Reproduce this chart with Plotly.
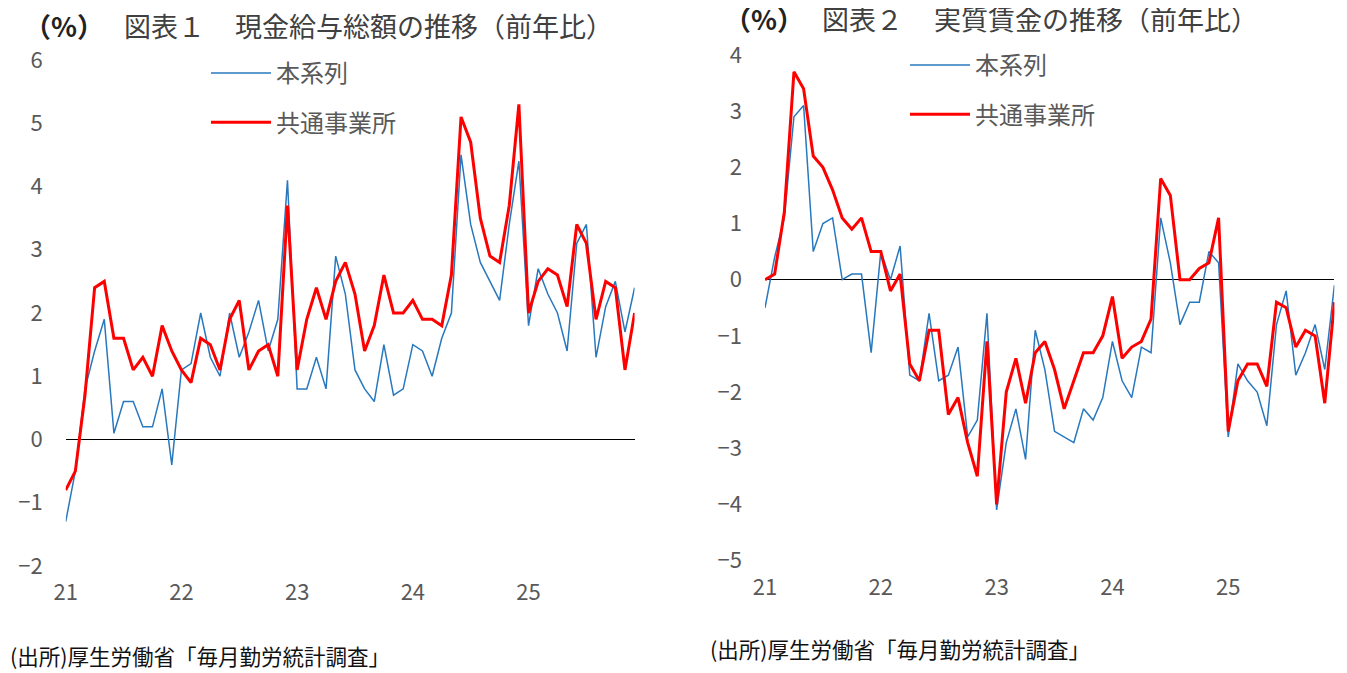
import plotly.graph_objects as go

# months Jan 2021 - Dec 2025
months = [f"{y}/{m:02d}" for y in range(21, 26) for m in range(1, 13)]
year_ticks = ["21/01", "22/01", "23/01", "24/01", "25/01"]
year_labels = ["21", "22", "23", "24", "25"]

# 図表1 現金給与総額 (前年比, %)
nominal_main = [-1.3, -0.5, 0.8, 1.4, 1.9, 0.1, 0.6, 0.6, 0.2, 0.2, 0.8, -0.4,
                1.1, 1.2, 2.0, 1.3, 1.0, 2.0, 1.3, 1.7, 2.2, 1.4, 1.9, 4.1,
                0.8, 0.8, 1.3, 0.8, 2.9, 2.3, 1.1, 0.8, 0.6, 1.5, 0.7, 0.8,
                1.5, 1.4, 1.0, 1.6, 2.0, 4.5, 3.4, 2.8, 2.5, 2.2, 3.4, 4.4,
                1.8, 2.7, 2.3, 2.0, 1.4, 3.1, 3.4, 1.3, 2.1, 2.5, 1.7, 2.4]
nominal_common = [-0.8, -0.5, 0.7, 2.4, 2.5, 1.6, 1.6, 1.1, 1.3, 1.0, 1.8, 1.4,
                  1.1, 0.9, 1.6, 1.5, 1.1, 1.9, 2.2, 1.1, 1.4, 1.5, 1.0, 3.7,
                  1.1, 1.9, 2.4, 1.9, 2.5, 2.8, 2.3, 1.4, 1.8, 2.6, 2.0, 2.0,
                  2.2, 1.9, 1.9, 1.8, 2.6, 5.1, 4.7, 3.5, 2.9, 2.8, 3.7, 5.3,
                  2.0, 2.5, 2.7, 2.6, 2.1, 3.4, 3.1, 1.9, 2.5, 2.4, 1.1, 2.0]

# 図表2 実質賃金 (前年比, %)
real_main = [-0.5, 0.4, 1.1, 2.9, 3.1, 0.5, 1.0, 1.1, 0.0, 0.1, 0.1, -1.3,
             0.5, 0.0, 0.6, -1.7, -1.8, -0.6, -1.8, -1.7, -1.2, -2.8, -2.5, -0.6,
             -4.1, -2.9, -2.3, -3.2, -0.9, -1.6, -2.7, -2.8, -2.9, -2.3, -2.5, -2.1,
             -1.1, -1.8, -2.1, -1.2, -1.3, 1.1, 0.3, -0.8, -0.4, -0.4, 0.5, 0.3,
             -2.8, -1.5, -1.8, -2.0, -2.6, -0.8, -0.2, -1.7, -1.3, -0.8, -1.6, -0.1]
real_common = [0.0, 0.1, 1.2, 3.7, 3.4, 2.2, 2.0, 1.6, 1.1, 0.9, 1.1, 0.5,
               0.5, -0.2, 0.1, -1.5, -1.8, -0.9, -0.9, -2.4, -2.1, -2.9, -3.5, -1.1,
               -4.0, -2.0, -1.4, -2.2, -1.3, -1.1, -1.6, -2.3, -1.8, -1.3, -1.3, -1.0,
               -0.3, -1.4, -1.2, -1.1, -0.7, 1.8, 1.5, 0.0, 0.0, 0.2, 0.3, 1.1,
               -2.7, -1.8, -1.5, -1.5, -1.9, -0.4, -0.5, -1.2, -0.9, -1.0, -2.2, -0.4]

# the page body keeps its default 8px margin, so the figure sits at (8, 8)
PAGE_OFF = 8
W, H = 1347 - PAGE_OFF, 673 - PAGE_OFF
FONT = "Noto Sans CJK JP"
BLUE = "#2878BE"
RED = "#FF0000"
GRAY = "#595959"


def px(x):
    # screen pixel -> paper x
    return (x - PAGE_OFF) / W


def py(y):
    # screen pixel -> paper y
    return 1 - (y - PAGE_OFF) / H


fig = go.Figure()

# left chart
fig.add_trace(go.Scatter(x=months, y=nominal_main, mode="lines", name="本系列",
                         line=dict(color=BLUE, width=1.5), xaxis="x", yaxis="y",
                         legend="legend", legendgroup="a"))
fig.add_trace(go.Scatter(x=months, y=nominal_common, mode="lines", name="共通事業所",
                         line=dict(color=RED, width=3), xaxis="x", yaxis="y",
                         legend="legend", legendgroup="b"))
# right chart
fig.add_trace(go.Scatter(x=months, y=real_main, mode="lines", name="本系列",
                         line=dict(color=BLUE, width=1.5), xaxis="x2", yaxis="y2",
                         legend="legend2", legendgroup="c"))
fig.add_trace(go.Scatter(x=months, y=real_common, mode="lines", name="共通事業所",
                         line=dict(color=RED, width=3), xaxis="x2", yaxis="y2",
                         legend="legend2", legendgroup="d"))

xcommon = dict(type="category", range=[0, len(months) - 1], tickvals=year_ticks,
               ticktext=year_labels, showgrid=False, showline=False, zeroline=False,
               ticks="", ticklabelstandoff=11, automargin=False,
               tickfont=dict(family=FONT, size=22, color=GRAY))
ycommon = dict(dtick=1, showgrid=False, showline=False, zeroline=True,
               zerolinecolor="black", zerolinewidth=1, ticks="",
               ticklabelstandoff=22, automargin=False,
               tickfont=dict(family=FONT, size=22, color=GRAY))

legend_style = dict(font=dict(family=FONT, size=24, color=GRAY), itemwidth=60,
                    tracegroupgap=15, bgcolor="rgba(0,0,0,0)", xanchor="left",
                    yanchor="top", traceorder="grouped")

fig.update_layout(
    width=W, height=H,
    margin=dict(l=0, r=0, t=0, b=0, autoexpand=False),
    paper_bgcolor="white", plot_bgcolor="white",
    font=dict(family=FONT, color=GRAY),
    xaxis=dict(domain=[px(65.7), px(634.6)], anchor="y", **xcommon),
    yaxis=dict(domain=[py(566), py(60)], range=[-2, 6], anchor="x", **ycommon),
    xaxis2=dict(domain=[px(765), px(1334.4)], anchor="y2", **xcommon),
    yaxis2=dict(domain=[py(560.5), py(55)], range=[-5, 4], anchor="x2", **ycommon),
    legend=dict(x=px(206), y=py(51), **legend_style),
    legend2=dict(x=px(905), y=py(43), **legend_style),
)

titles = [
    (22, 25, "<b>（%）</b>", "#222222"),
    (122, 25, "図表１", "#404040"),
    (233, 25, "現金給与総額の推移（前年比）", "#404040"),
    (722, 19, "<b>（%）</b>", "#222222"),
    (820, 19, "図表２", "#404040"),
    (932, 19, "実質賃金の推移（前年比）", "#404040"),
]
for x, y, text, color in titles:
    fig.add_annotation(x=px(x), y=py(y), xref="paper", yref="paper", text=text,
                       showarrow=False, xanchor="left", yanchor="middle",
                       font=dict(family=FONT, size=27, color=color))

sources = [(8, 655), (708, 648)]
for x, y in sources:
    fig.add_annotation(x=px(x), y=py(y), xref="paper", yref="paper",
                       text="(出所)厚生労働省「毎月勤労統計調査」", showarrow=False,
                       xanchor="left", yanchor="middle",
                       font=dict(family=FONT, size=21.5, color="#111111"))

fig.write_html("out.html")
